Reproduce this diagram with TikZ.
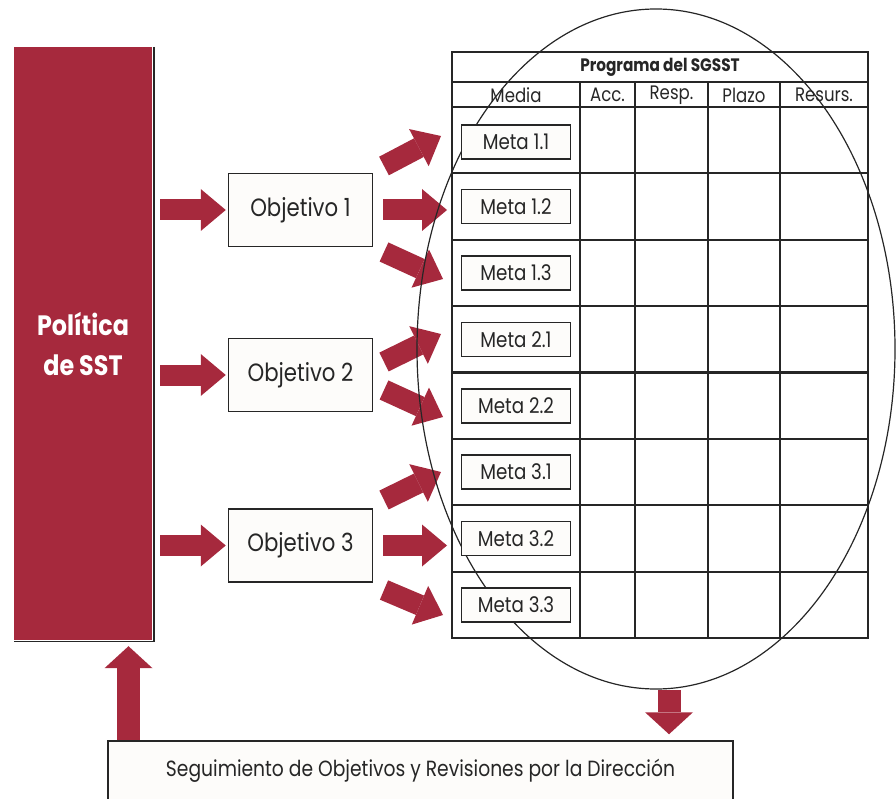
\documentclass[tikz,border=0pt]{standalone}
\usepackage{fontspec}
\setmainfont{Poppins}[FakeStretch=0.85]
\usetikzlibrary{arrows.meta}
\definecolor{brandred}{RGB}{166,41,61}
\definecolor{ink}{RGB}{38,38,38}
\definecolor{paper}{RGB}{253,252,250}
\begin{document}
\begin{tikzpicture}[x=1pt,y=-1pt,
  fat/.style={line width=21pt, draw=brandred, line cap=butt,
    -{Triangle[width=42pt,length=25pt,line width=0pt]}},
  vfat/.style={line width=23pt, draw=brandred, line cap=butt,
    -{Triangle[width=48pt,length=22pt,line width=0pt]}},
  polbox/.style={fill=brandred, minimum width=138pt, minimum height=593pt,
    inner sep=0pt, text=white, align=center,
    font=\bfseries\fontsize{28}{40}\selectfont},
  objbox/.style={draw=ink, line width=1.5pt, fill=paper, text=ink,
    minimum width=144pt, minimum height=73pt, inner sep=0pt,
    font=\fontsize{25}{30}\selectfont},
  metabox/.style={draw=ink, line width=1.2pt, fill=paper, text=ink,
    minimum width=109pt, minimum height=34pt, inner sep=0pt,
    font=\fontsize{21.5}{24}\selectfont},
  head/.style={text=ink, inner sep=0pt, font=\fontsize{19.5}{22}\selectfont},
  revbox/.style={draw=ink, line width=1.5pt, fill=paper,
    minimum width=625pt, minimum height=70pt, inner sep=0pt},
  outer/.style={draw=ink, line width=1.6pt},
  inner/.style={draw=ink, line width=2.2pt},
]
\useasboundingbox (0,0) rectangle (896,799);

% policy column with its shadow edge
\node[polbox] (pol) at (83,343.5) {Política\\de SST};
\draw[ink, line width=1.5pt]
  ([xshift=1.8pt]pol.north east) -- ([xshift=1.8pt,yshift=-1.5pt]pol.south east)
  -- ([yshift=-1.5pt]pol.south west);

% objectives
\node[objbox] (obj1) at (300.5,210) {Objetivo 1};
\node[objbox] (obj2) at (300.5,375) {Objetivo 2};
\node[objbox] (obj3) at (300.5,545.5) {Objetivo 3};

% programme table
\draw[outer] (452,52) rectangle (868,638);
\draw[outer] (452,82) -- (868,82);
\draw[inner] (452,107) -- (868,107);
\foreach \k in {1,...,7}{
  \draw[inner] (452,{107+66.375*\k}) -- (868,{107+66.375*\k});
}
\foreach \cx in {580,635,708,780}{
  \draw[inner] (\cx,82) -- (\cx,638);
}
\node[head, font=\bfseries\fontsize{18}{20}\selectfont] (title) at (660,67) {Programa del SGSST};
\node[head] (hmed) at (516,95) {Media};
\node[head] (hacc) at (607.5,95) {Acc.};
\node[head] (hres) at (671.5,95) {Resp.};
\node[head] (hpla) at (744,95) {Plazo};
\node[head] (hrec) at (824,95) {Resurs.};

% review box
\node[revbox] (rev) at (420.5,776) {};
\node[text=ink, inner sep=0pt, font=\fontsize{22}{26}\selectfont] (revtext)
  at ([yshift=5pt]rev.center) {Seguimiento de Objetivos y Revisiones por la Dirección};

% arrows from the policy to the objectives
\foreach \o in {obj1,obj2,obj3}{
  \draw[fat, shorten <=8pt, shorten >=2pt] (pol.east |- \o.west) -- (\o.west);
}

% arrows from the objectives to the goals
\coordinate (m12) at (462,206);
\coordinate (m32) at (462,538);
\draw[fat, shorten <=10pt, shorten >=15pt] (obj1.east) -- (obj1.east -| m12);
\draw[fat, shorten <=10pt, shorten >=15pt] (obj3.east) -- (obj3.east -| m32);

\coordinate (a11) at (384,166); \coordinate (b11) at (441,136);
\coordinate (a13) at (384,252); \coordinate (b13) at (443,279);
\coordinate (a21) at (384,362); \coordinate (b21) at (441,334);
\coordinate (a22) at (384,390); \coordinate (b22) at (443,417);
\coordinate (a31) at (384,500); \coordinate (b31) at (441,472);
\coordinate (a33) at (384,590); \coordinate (b33) at (443,615);
\foreach \p in {11,13,21,22,31,33}{
  \draw[fat] (a\p) -- (b\p);
}

% feedback arrows
\coordinate (up) at (128.5,0);
\draw[vfat, shorten >=6pt] (rev.north -| up) -- (pol.south -| up);
\coordinate (dn) at (669,690);
\draw[vfat, shorten >=6pt] (dn) -- (rev.north -| dn);

% scope of the programme
\draw[ink, line width=1.2pt] (656,349) ellipse [x radius=239, y radius=340];

% goals
\node[metabox] (g11) at (516,142) {Meta 1.1};
\node[metabox] (g12) at (516,206.5) {Meta 1.2};
\node[metabox] (g13) at (516,273) {Meta 1.3};
\node[metabox] (g21) at (516,339.5) {Meta 2.1};
\node[metabox] (g22) at (516,406) {Meta 2.2};
\node[metabox] (g31) at (516,472) {Meta 3.1};
\node[metabox] (g32) at (516,538.5) {Meta 3.2};
\node[metabox] (g33) at (516,605) {Meta 3.3};
\end{tikzpicture}
\end{document}
